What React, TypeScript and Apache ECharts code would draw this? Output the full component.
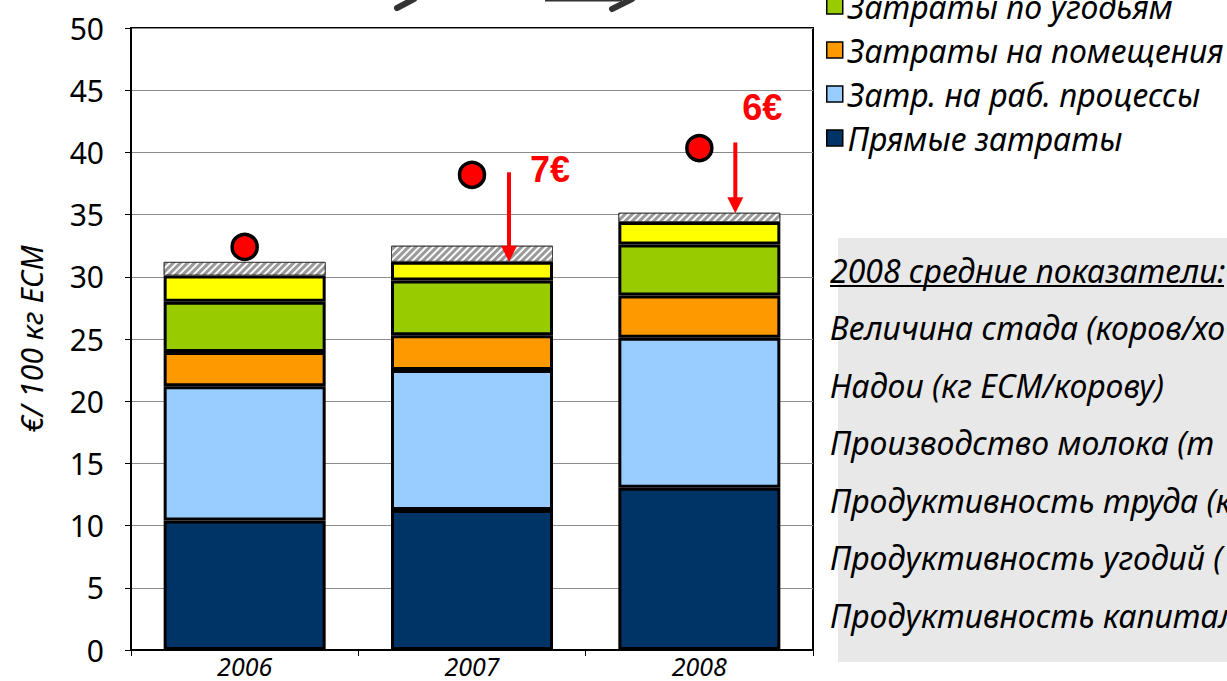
import React, { useEffect, useRef } from "react";
import * as echarts from "echarts";

// ---- data ----
const years = ["2006", "2007", "2008"];
const directCosts = [10.4, 11.25, 13.05];          // Прямые затраты
const workProcessCosts = [10.8, 11.25, 12.05];     // Затр. на раб. процессы
const buildingCosts = [2.75, 2.8, 3.4];            // Затраты на помещения
const landCosts = [4.05, 4.4, 4.1];                // Затраты по угодьям
const otherCosts = [2.1, 1.5, 1.8];                // прочие (жёлтые)
const hatchedPart = [1.1, 1.3, 0.75];              // заштрихованная часть
const totalDots = [32.4, 38.2, 40.35];             // красные точки
const arrowYears = [1, 2];
const arrowFrom = [38.4, 40.8];
const arrowTo = [31.2, 35.1];
const arrowLabelY = [38.6, 43.6];
const arrowLabels = ["7€", "6€"];
const yTicks = { min: 0, max: 50, interval: 5 };

const legendNames = [
  "Затраты по угодьям",
  "Затраты на помещения",
  "Затр. на раб. процессы",
  "Прямые затраты",
];

// text of the info box, as far as it is visible in the reference
const boxTitle = "2008 средние показатели:";
const boxLines = [
  "Величина стада (коров/хо",
  "Надои (кг ECM/корову)",
  "Производство молока (т",
  "Продуктивность труда (к",
  "Продуктивность угодий (",
  "Продуктивность капитал",
];

const FONT = '"Noto Sans", sans-serif';

export default function App() {
  const ref = useRef<HTMLDivElement>(null);

  useEffect(() => {
    if (!ref.current) return;
    const chart = echarts.init(ref.current, null, { renderer: "svg" });

    const barSeries = (name: string, data: number[], color: string) => ({
      name,
      type: "bar",
      stack: "total",
      barWidth: 162,
      data,
      itemStyle: { color, borderColor: "#000", borderWidth: 3 },
      emphasis: { disabled: true },
    });

    const arrowDx = [37, 36];
    const labelDx = [78, 63];

    const option: any = {
      animation: false,
      backgroundColor: "#fff",
      grid: {
        left: 131,
        top: 28,
        right: 414,
        bottom: 31,
        show: true,
        borderColor: "#000",
        borderWidth: 2,
        backgroundColor: "transparent",
      },
      legend: {
        data: legendNames,
        orient: "vertical",
        left: 826,
        top: -10,
        padding: 0,
        icon: "rect",
        itemWidth: 16,
        itemHeight: 16,
        itemGap: 12,
        itemStyle: { borderColor: "#000", borderWidth: 1.5 },
        textStyle: {
          fontFamily: FONT,
          fontStyle: "italic",
          fontSize: 32,
          lineHeight: 32,
          color: "#000",
        },
        selectedMode: false,
      },
      xAxis: {
        type: "category",
        data: years,
        axisLine: { lineStyle: { color: "#000", width: 2 } },
        axisTick: { show: true, length: 6, lineStyle: { color: "#000" } },
        axisLabel: {
          fontFamily: FONT,
          fontStyle: "italic",
          fontSize: 25,
          lineHeight: 26,
          color: "#000",
          margin: 3,
        },
      },
      yAxis: {
        type: "value",
        min: yTicks.min,
        max: yTicks.max,
        interval: yTicks.interval,
        name: "€/ 100 кг ECM",
        nameLocation: "middle",
        nameGap: 85,
        nameTextStyle: {
          fontFamily: FONT,
          fontStyle: "italic",
          fontSize: 30,
          color: "#000",
        },
        axisLine: { show: true, lineStyle: { color: "#000", width: 2 } },
        axisTick: { show: true, length: 6, lineStyle: { color: "#000" } },
        axisLabel: {
          fontFamily: FONT,
          fontSize: 30,
          color: "#000",
          margin: 27,
        },
        splitLine: { lineStyle: { color: "#8c8c8c", width: 1 } },
      },
      series: [
        barSeries("Прямые затраты", directCosts, "#003366"),
        barSeries("Затр. на раб. процессы", workProcessCosts, "#99CCFF"),
        barSeries("Затраты на помещения", buildingCosts, "#FF9900"),
        barSeries("Затраты по угодьям", landCosts, "#99CC00"),
        barSeries("Прочие затраты", otherCosts, "#FFFF00"),
        {
          name: "Заштрихованная часть",
          type: "bar",
          stack: "total",
          barWidth: 162,
          data: hatchedPart,
          emphasis: { disabled: true },
          itemStyle: {
            color: "#9a9a9a",
            borderColor: "#444",
            borderWidth: 1,
            decal: {
              symbol: "rect",
              symbolSize: 1,
              color: "rgba(255,255,255,0.95)",
              dashArrayX: [1, 0],
              dashArrayY: [2, 2.5],
              rotation: -Math.PI / 4,
            },
          },
        },
        {
          name: "Итого",
          type: "scatter",
          data: totalDots,
          symbol: "circle",
          symbolSize: 25,
          z: 5,
          itemStyle: { color: "#FF0000", borderColor: "#000", borderWidth: 3.5, opacity: 1 },
          emphasis: { disabled: true },
        },
        {
          name: "Стрелки",
          type: "custom",
          z: 6,
          data: arrowYears.map((c, i) => [c, arrowFrom[i], arrowTo[i], arrowLabelY[i], i]),
          renderItem: (params: any, api: any) => {
            const idx = api.value(4);
            const p1 = api.coord([api.value(0), api.value(1)]);
            const p2 = api.coord([api.value(0), api.value(2)]);
            const pl = api.coord([api.value(0), api.value(3)]);
            const x = p1[0] + arrowDx[idx];
            const head = 16;
            return {
              type: "group",
              children: [
                {
                  type: "line",
                  shape: { x1: x, y1: p1[1], x2: x, y2: p2[1] - head + 2 },
                  style: { stroke: "#FF0000", lineWidth: 4 },
                },
                {
                  type: "polygon",
                  shape: {
                    points: [
                      [x - 8, p2[1] - head],
                      [x + 8, p2[1] - head],
                      [x, p2[1]],
                    ],
                  },
                  style: { fill: "#FF0000" },
                },
                {
                  type: "text",
                  x: p1[0] + labelDx[idx],
                  y: pl[1],
                  style: {
                    text: arrowLabels[idx],
                    fill: "#FF0000",
                    font: 'bold 36px "Liberation Sans", Arial, sans-serif',
                    align: "center",
                    verticalAlign: "middle",
                  },
                },
              ],
            };
          },
        },
      ],
      graphic: [
        // cut-off decorations at the very top
        {
          type: "line",
          shape: { x1: 397, y1: 8, x2: 414, y2: -1 },
          style: { stroke: "#333", lineWidth: 6, lineCap: "round" },
        },
        {
          type: "line",
          shape: { x1: 545, y1: 0, x2: 622, y2: 0 },
          style: { stroke: "#333", lineWidth: 3 },
        },
        {
          type: "line",
          shape: { x1: 612, y1: 9, x2: 632, y2: -1 },
          style: { stroke: "#333", lineWidth: 6, lineCap: "round" },
        },
        // info box
        {
          type: "rect",
          shape: { x: 838, y: 238, width: 400, height: 424 },
          style: { fill: "#e8e8e8" },
          z: 0,
        },
        {
          type: "text",
          x: 830,
          y: 270,
          style: {
            text: boxTitle,
            font: `italic 32px ${FONT}`,
            fill: "#000",
            verticalAlign: "middle",
          },
        },
        {
          type: "line",
          shape: { x1: 830, y1: 286, x2: 1224, y2: 286 },
          style: { stroke: "#000", lineWidth: 2 },
        },
        ...boxLines.map((t, i) => ({
          type: "text",
          x: 830,
          y: 327.5 + i * 57.5,
          style: {
            text: t,
            font: `italic 32px ${FONT}`,
            fill: "#000",
            verticalAlign: "middle",
          },
        })),
      ],
    };

    chart.setOption(option);
    return () => chart.dispose();
  }, []);

  return (
    <div
      ref={ref}
      style={{ position: "absolute", left: 0, top: 0, width: 1227, height: 681, overflow: "hidden" }}
    />
  );
}
